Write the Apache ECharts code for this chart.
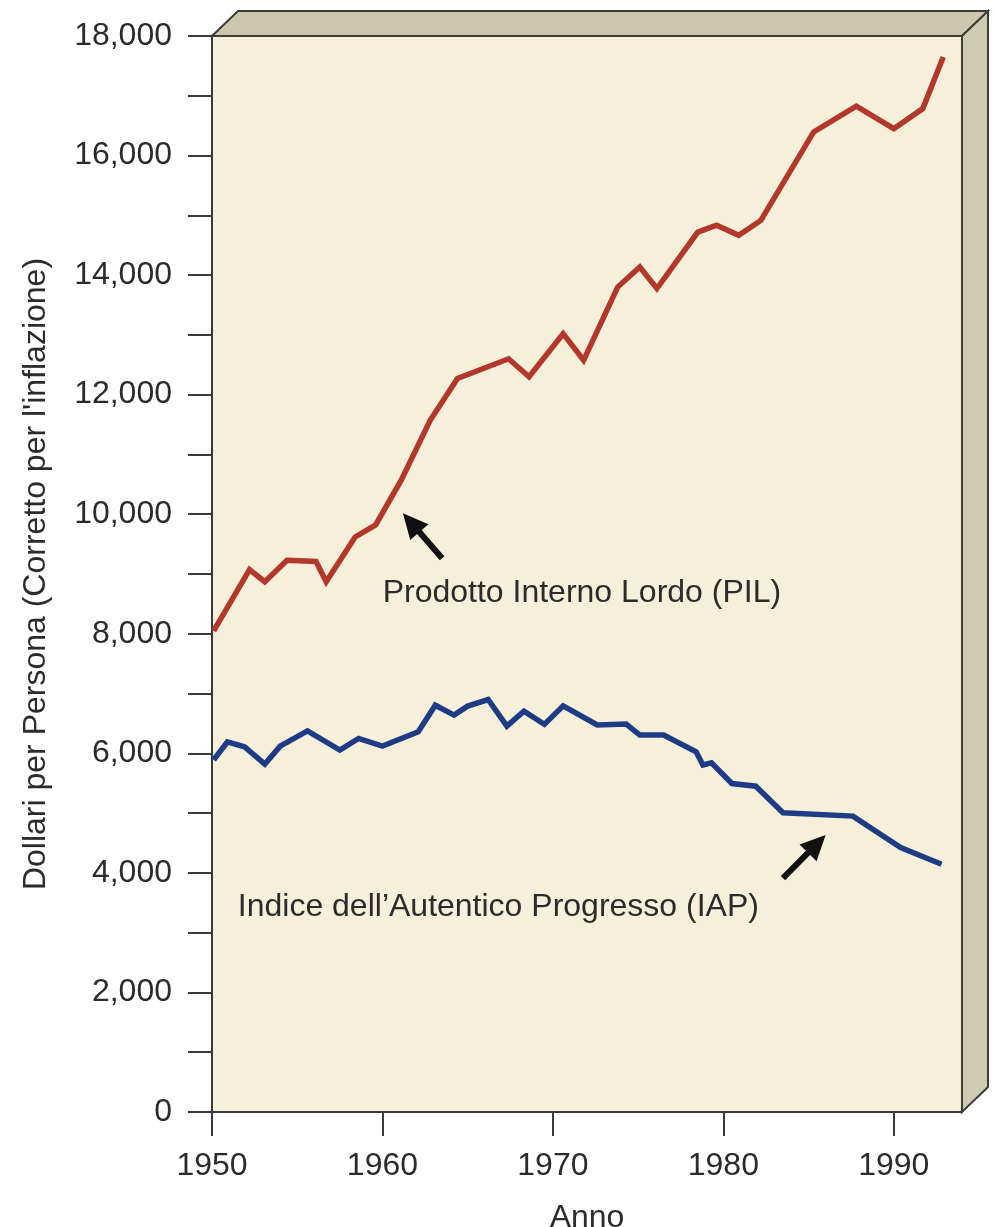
<!DOCTYPE html>
<html>
<head>
<meta charset="utf-8">
<script src="https://cdn.jsdelivr.net/npm/echarts@6/dist/echarts.min.js"></script>
<style>
html,body{margin:0;padding:0;background:#ffffff;}
#chart{width:994px;height:1227px;}
</style>
</head>
<body>
<div id="chart"></div>
<script>
// ---- data ----
const xTickYears = [1950, 1960, 1970, 1980, 1990];
const yTickValues = [0, 2000, 4000, 6000, 8000, 10000, 12000, 14000, 16000, 18000];

// Prodotto Interno Lordo (PIL) : [anno, dollari]
const pilData = [
  [1950.1, 8050], [1952.2, 9075], [1953.1, 8870], [1954.4, 9230], [1956.1, 9210],
  [1956.7, 8870], [1958.4, 9620], [1959.6, 9820], [1961.1, 10570], [1962.8, 11570],
  [1964.4, 12270], [1967.4, 12600], [1968.6, 12300], [1970.6, 13020], [1971.8, 12575],
  [1973.8, 13800], [1975.1, 14135], [1976.1, 13775], [1978.5, 14720], [1979.6, 14835],
  [1980.9, 14665], [1982.2, 14915], [1985.3, 16395], [1987.8, 16825], [1990.0, 16450],
  [1991.7, 16785], [1992.9, 17650]
];

// Indice dell'Autentico Progresso (IAP) : [anno, dollari]
const iapData = [
  [1950.1, 5890], [1950.9, 6190], [1951.9, 6110], [1953.1, 5820], [1954.0, 6120],
  [1955.6, 6375], [1957.5, 6055], [1958.6, 6250], [1960.0, 6120], [1962.1, 6360],
  [1963.1, 6805], [1964.2, 6640], [1965.0, 6790], [1966.2, 6900], [1967.3, 6455],
  [1968.3, 6705], [1969.5, 6485], [1970.6, 6795], [1972.6, 6475], [1974.3, 6490],
  [1975.1, 6305], [1976.5, 6305], [1978.4, 6025], [1978.8, 5805], [1979.3, 5840],
  [1980.5, 5495], [1981.9, 5450], [1983.5, 5005], [1987.6, 4950], [1990.4, 4425],
  [1992.8, 4145]
];

// annotations (data coordinates)
const pilLabel = { text: 'Prodotto Interno Lordo (PIL)', at: [1971.7, 8680] };
const pilArrow = { from: [1963.5, 9264], to: [1961.2, 10017] };
const iapLabel = { text: 'Indice dell\u2019Autentico Progresso (IAP)', at: [1966.8, 3430] };
const iapArrow = { from: [1983.5, 3913], to: [1986.0, 4632] };

const FONT = '"Liberation Sans", Arial, Helvetica, sans-serif';
const TXT = '#2b2b2b';
const AX = '#3a3a3a';

const chart = echarts.init(document.getElementById('chart'), null, { renderer: 'canvas' });

const option = {
  backgroundColor: '#ffffff',
  animation: false,
  textStyle: { fontFamily: FONT },
  grid: {
    left: 212, right: 32, top: 36, bottom: 115,
    containLabel: false,
    outerBoundsMode: 'none',
    show: true,
    backgroundColor: '#f6efd9',
    borderColor: AX,
    borderWidth: 2
  },
  xAxis: {
    type: 'value',
    min: 1950, max: 1994,
    name: 'Anno',
    nameLocation: 'middle',
    nameGap: 90,
    nameTextStyle: { fontSize: 32, color: TXT, fontFamily: FONT },
    axisLine: { show: true, lineStyle: { color: AX, width: 2 } },
    axisTick: { show: true, length: 24, lineStyle: { color: AX, width: 2 }, customValues: xTickYears },
    axisLabel: { fontSize: 32, color: TXT, margin: 38, fontFamily: FONT, customValues: xTickYears,
      formatter: v => String(v) },
    splitLine: { show: false }
  },
  yAxis: {
    type: 'value',
    min: 0, max: 18000, interval: 2000,
    name: "Dollari per Persona (Corretto per l'inflazione)",
    nameLocation: 'middle',
    nameGap: 160,
    nameTextStyle: { fontSize: 32, color: TXT, fontFamily: FONT },
    axisLine: { show: true, lineStyle: { color: AX, width: 2 } },
    axisTick: { show: true, length: 24, lineStyle: { color: AX, width: 2 }, customValues: yTickValues },
    minorTick: { show: true, splitNumber: 2, length: 24, lineStyle: { color: AX, width: 2 } },
    axisLabel: { fontSize: 32, color: TXT, margin: 40, fontFamily: FONT,
      formatter: v => v.toLocaleString('en-US') },
    splitLine: { show: false },
    minorSplitLine: { show: false }
  },
  series: [
    {
      name: 'PIL', type: 'line', data: pilData, showSymbol: false, symbol: 'none',
      lineStyle: { color: '#b3372a', width: 5.5, join: 'miter' }, z: 3
    },
    {
      name: 'IAP', type: 'line', data: iapData, showSymbol: false, symbol: 'none',
      lineStyle: { color: '#1e3c86', width: 5.5, join: 'miter' }, z: 3
    }
  ]
};

chart.setOption(option);

function px(p) { return chart.convertToPixel({ gridIndex: 0 }, p); }

function arrowGraphics(a) {
  const t = px(a.from), h = px(a.to);
  const dx = h[0] - t[0], dy = h[1] - t[1];
  const len = Math.sqrt(dx * dx + dy * dy);
  const ux = dx / len, uy = dy / len;
  const headLen = 25, headW = 12;
  const bx = h[0] - ux * headLen, by = h[1] - uy * headLen;
  const nx = -uy, ny = ux;
  return [
    { type: 'line', silent: true, z: 10,
      shape: { x1: t[0], y1: t[1], x2: bx + ux * 2, y2: by + uy * 2 },
      style: { stroke: '#111', lineWidth: 6, lineCap: 'butt' } },
    { type: 'polygon', silent: true, z: 10,
      shape: { points: [[h[0], h[1]], [bx + nx * headW, by + ny * headW], [bx - nx * headW, by - ny * headW]] },
      style: { fill: '#111' } }
  ];
}

function labelGraphic(l) {
  const p = px(l.at);
  return { type: 'text', silent: true, z: 10, x: p[0], y: p[1],
    style: { text: l.text, fill: TXT, font: '32px ' + FONT, textAlign: 'center', textVerticalAlign: 'middle' } };
}

// 3D frame around the plotting area
const tl = px([1950, 18000]), br = px([1994, 0]);
const L = tl[0], T = tl[1], R = br[0], B = br[1];
const dX = 26, dY = -25;

const graphics = [
  { type: 'polygon', silent: true, z: 1,
    shape: { points: [[L, T], [L + dX, T + dY], [R + dX, T + dY], [R, T]] },
    style: { fill: '#cdc7ae', stroke: '#3d3d38', lineWidth: 2, lineJoin: 'miter' } },
  { type: 'polygon', silent: true, z: 1,
    shape: { points: [[R, T], [R + dX, T + dY], [R + dX, B + dY], [R, B]] },
    style: { fill: '#d0cab3', stroke: '#3d3d38', lineWidth: 2, lineJoin: 'miter' } },
  labelGraphic(pilLabel),
  labelGraphic(iapLabel)
].concat(arrowGraphics(pilArrow), arrowGraphics(iapArrow));

chart.setOption({ graphic: graphics });
</script>
</body>
</html>
